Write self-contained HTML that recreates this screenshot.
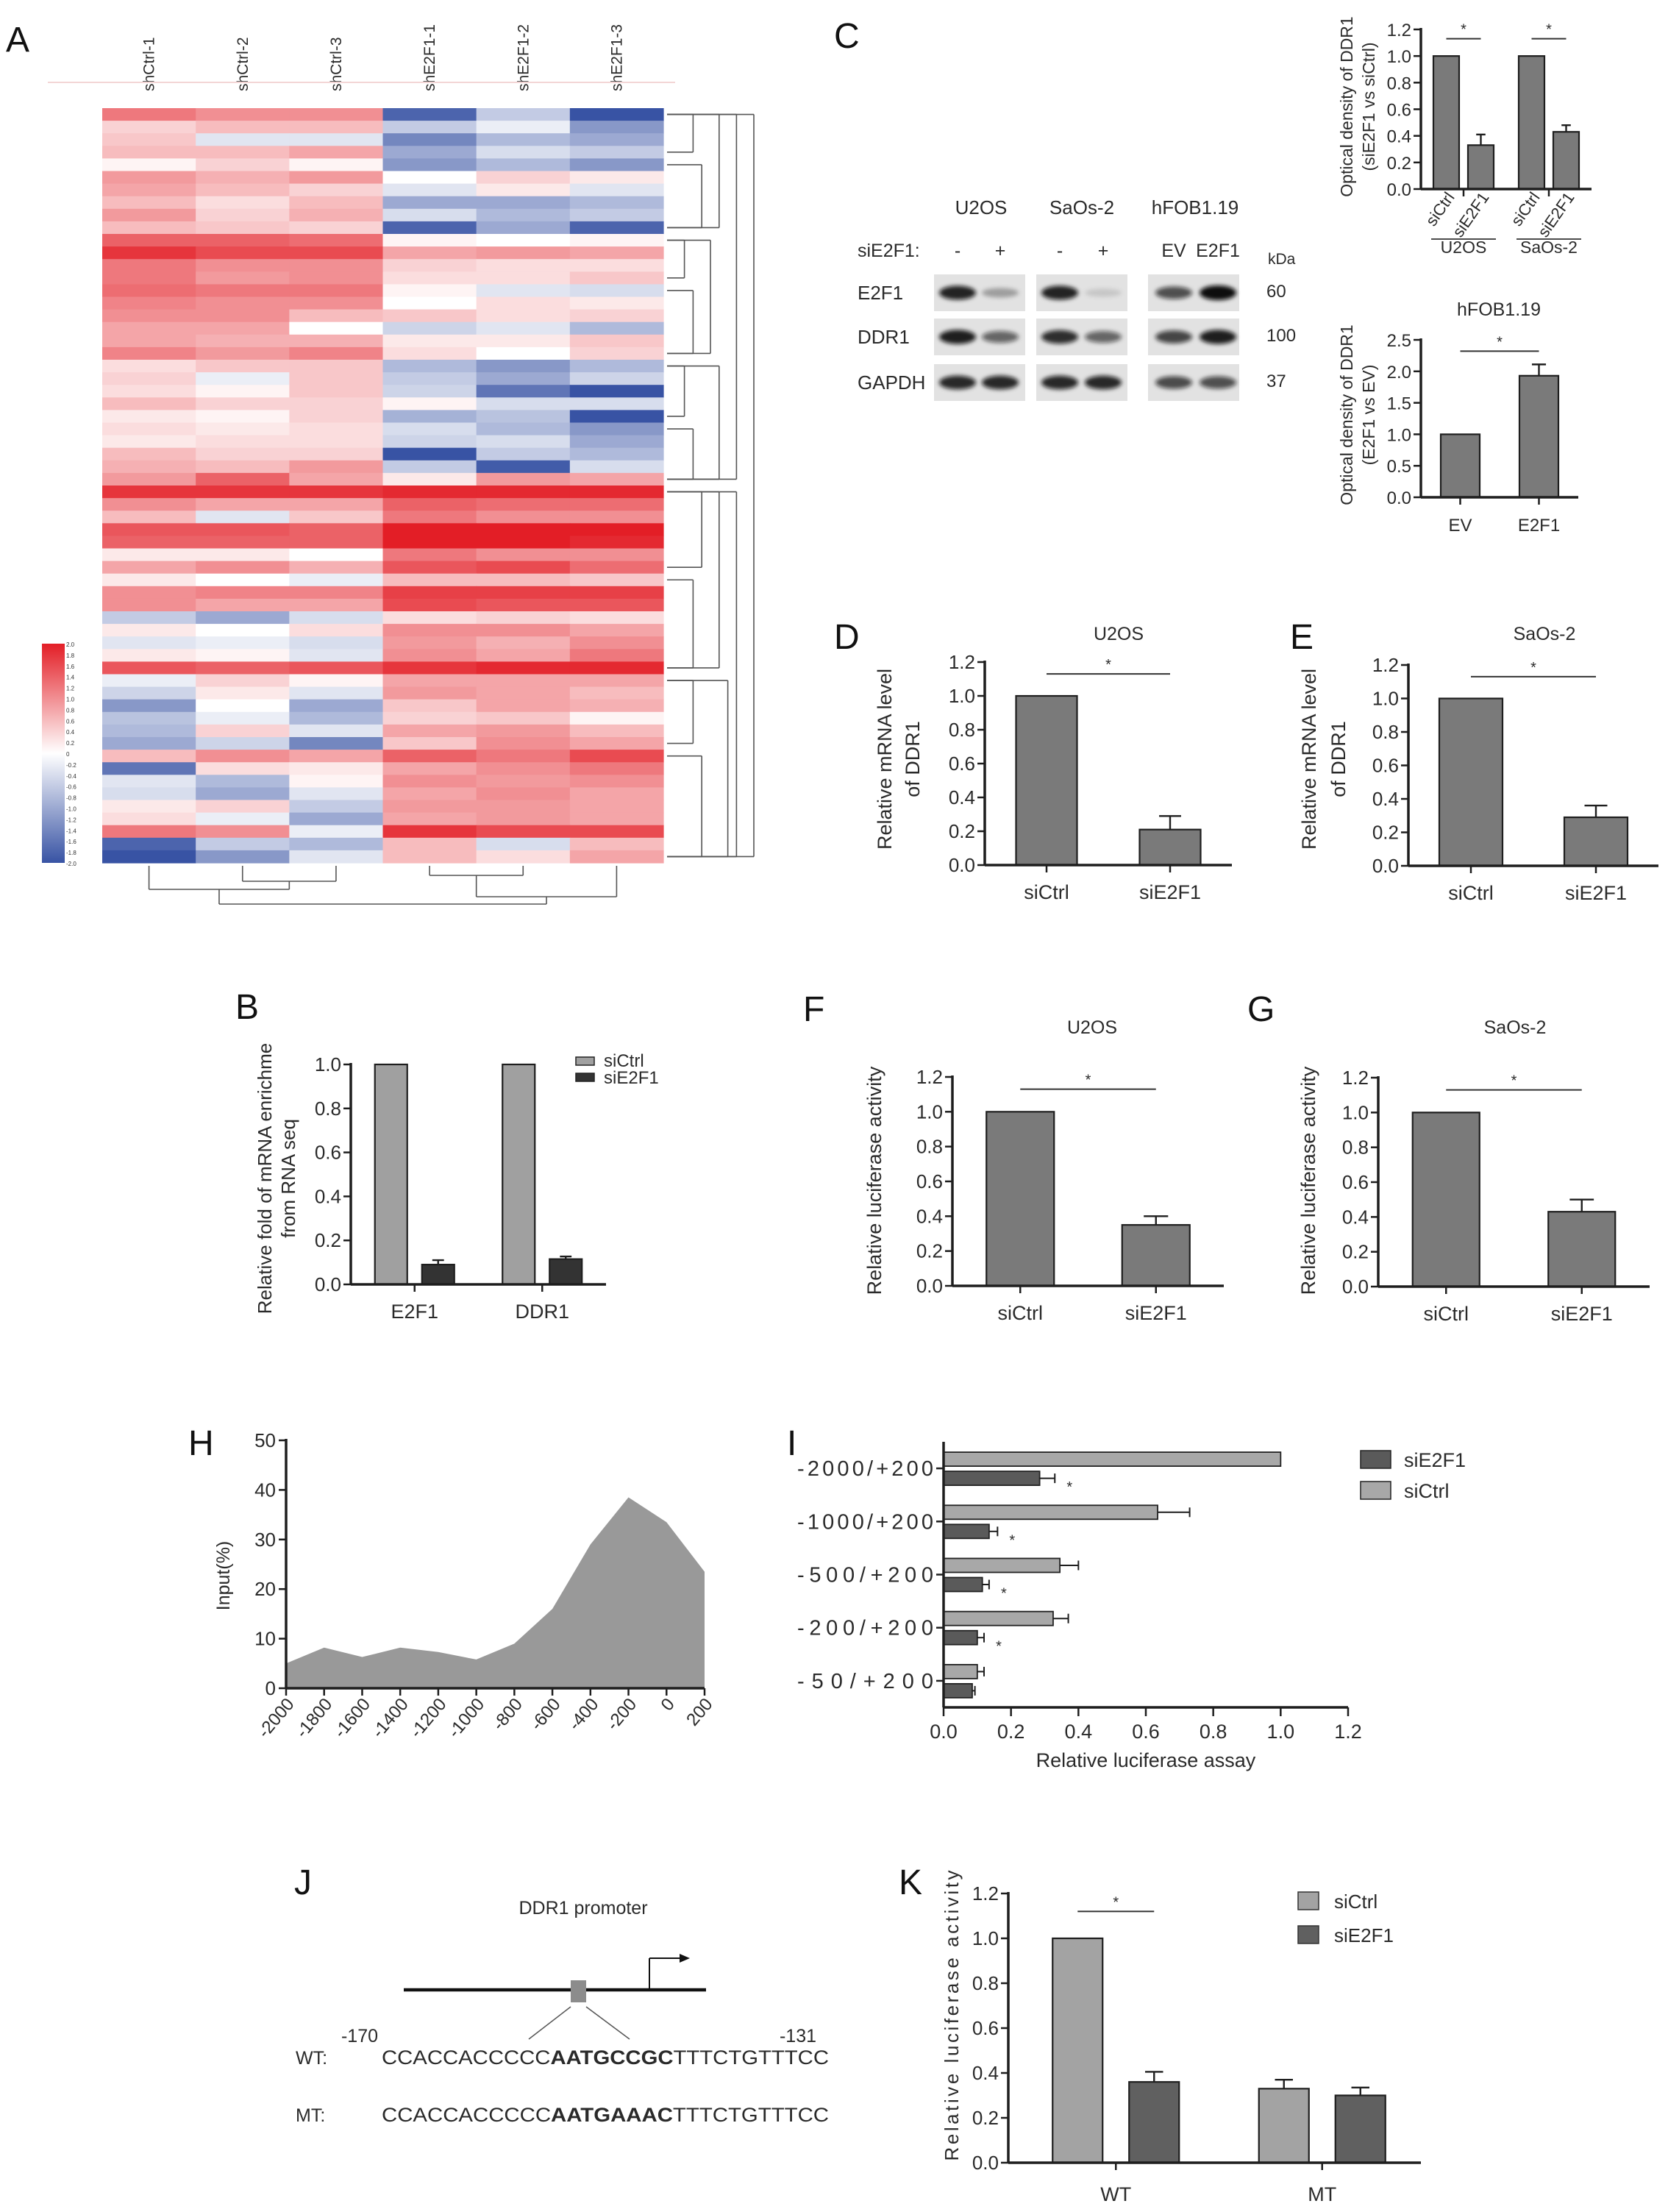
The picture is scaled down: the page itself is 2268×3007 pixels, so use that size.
<!DOCTYPE html>
<html><head><meta charset="utf-8">
<style>
html,body{margin:0;padding:0;background:#fff;}
svg{display:block;font-family:"Liberation Sans",Arial,sans-serif;}
</style></head>
<body>
<svg id="fig" xmlns="http://www.w3.org/2000/svg" width="2268" height="3007" viewBox="0 0 2268 3007">
<defs>
<filter id="blur" x="-20%" y="-50%" width="140%" height="200%"><feGaussianBlur stdDeviation="3"/></filter>
<linearGradient id="cbar" x1="0" y1="0" x2="0" y2="1">
<stop offset="0" stop-color="#e31e26"/><stop offset="0.5" stop-color="#ffffff"/><stop offset="1" stop-color="#3853a4"/>
</linearGradient>
</defs>
</svg>
<script>
// ---------- DATA ----------
const hmCols=['shCtrl-1','shCtrl-2','shCtrl-3','shE2F1-1','shE2F1-2','shE2F1-3'];
const hmRows=[
[1.2,1.0,1.0,-1.8,-0.6,-2.0],[0.4,0.6,0.6,-0.6,-0.2,-1.2],[0.5,-0.3,-0.3,-1.4,-0.8,-1.0],[0.6,0.6,0.8,-1.0,-0.4,-0.6],
[0.1,0.4,0.1,-1.2,-0.8,-1.2],[0.9,0.7,0.9,0.0,0.4,0.2],[0.8,0.6,0.4,-0.3,0.2,-0.3],[0.6,0.3,0.6,-1.0,-1.0,-0.8],
[0.9,0.4,0.7,-0.4,-0.8,-0.6],[0.6,0.5,0.4,-1.8,-1.0,-1.8],[1.4,1.4,1.3,0.1,0.0,0.1],[1.8,1.6,1.6,0.8,0.9,0.8],
[1.2,1.0,1.0,0.4,0.3,0.3],[1.2,0.9,1.0,0.3,0.3,0.5],[1.3,1.2,1.2,0.1,-0.3,-0.4],[1.1,1.0,1.0,0.0,0.3,0.2],
[1.0,1.0,0.6,0.5,0.3,0.4],[0.8,0.8,0.0,-0.5,-0.3,-0.8],[0.8,0.7,0.7,0.2,0.2,0.5],[1.1,0.9,1.1,0.3,0.0,0.4],
[0.3,0.5,0.5,-0.8,-1.2,-0.8],[0.4,-0.2,0.5,-0.6,-1.0,-0.5],[0.3,0.1,0.5,-0.5,-1.6,-2.0],[0.6,0.4,0.4,0.1,-0.4,-0.4],
[0.2,0.1,0.4,-0.9,-0.7,-2.0],[0.3,0.2,0.3,-0.4,-0.8,-1.2],[0.2,0.3,0.3,-0.5,-0.4,-1.0],[0.6,0.4,0.4,-2.0,-0.6,-0.8],
[0.7,0.6,0.9,-0.6,-1.9,-0.4],[0.9,1.4,0.8,0.2,0.9,0.8],[1.8,1.8,1.8,1.9,1.9,1.9],[1.0,0.8,0.8,1.4,1.3,1.3],
[0.6,-0.3,0.5,1.2,1.0,1.0],[1.5,1.5,1.4,2.0,2.0,2.0],[1.4,1.4,1.4,2.0,2.0,1.9],[0.2,0.2,0.0,1.2,1.0,1.0],
[0.8,1.0,0.7,1.5,1.6,1.3],[0.2,0.0,-0.2,0.6,0.6,0.5],[1.0,1.1,1.1,1.7,1.7,1.7],[1.0,0.8,0.8,1.6,1.5,1.5],
[-0.6,-1.0,-0.4,0.3,0.4,0.3],[0.2,0.0,0.3,1.0,1.0,0.8],[-0.3,-0.2,-0.4,0.9,0.7,1.0],[0.2,0.1,-0.3,1.0,0.8,1.2],
[1.5,1.4,1.5,1.8,1.9,1.9],[-0.2,0.4,0.1,0.8,0.8,0.8],[-0.5,0.2,-0.3,0.9,0.8,0.6],[-1.2,0.0,-1.0,0.5,0.8,0.7],
[-0.7,-0.2,-0.8,0.4,0.5,0.1],[-0.8,0.4,-0.3,0.8,0.9,0.6],[-1.0,-0.5,-1.4,0.5,1.0,0.8],[0.6,1.0,0.8,1.4,1.2,1.6],
[-1.6,0.3,0.2,0.8,1.0,1.2],[-0.3,-0.8,0.1,1.0,0.9,1.0],[-0.4,-1.0,-0.3,0.8,1.0,0.8],[0.2,0.4,-0.6,0.9,0.9,0.8],
[0.3,-0.2,-1.0,0.8,0.9,0.8],[1.2,1.0,-0.2,1.8,1.6,1.6],[-1.8,-0.6,-0.8,0.6,-0.4,0.6],[-2.0,-1.2,-0.3,0.6,0.3,0.8]
];
const cbTicks=['2.0','1.8','1.6','1.4','1.2','1.0','0.8','0.6','0.4','0.2','0','-0.2','-0.4','-0.6','-0.8','-1.0','-1.2','-1.4','-1.6','-1.8','-2.0'];
const rowDendro=[[0,29,4],[30,59,4],[0,59,5],[0,9,3],[10,19,2.5],[20,29,3],[30,44,3],[45,59,3.5],[0,3,1.5],[4,9,2],[10,13,1],[14,19,1.5],[20,24,1],[25,29,1.5],[30,36,2],[37,44,1.5],[45,50,1.5],[51,59,2]];
const colDendro=[{a:1,b:2,ha:0,hb:0,h:21},{a:0,b:1.5,ha:0,hb:21,h:32},{a:3,b:4,ha:0,hb:0,h:13},{a:3.5,b:5,ha:13,hb:0,h:42},{a:0.75,b:4.25,ha:32,hb:42,h:52}];

const bCats=['E2F1','DDR1'];
const bCtrl=[1.0,1.0];
const bSi=[0.09,0.115];
const bSiErr=[0.02,0.012];
const bTicks=[0,0.2,0.4,0.6,0.8,1.0];

const cTopCats=['U2OS','SaOs-2'];
const cTopCtrl=[1.0,1.0];
const cTopSi=[0.33,0.43];
const cTopSiErr=[0.08,0.05];
const cTopTicks=[0,0.2,0.4,0.6,0.8,1.0,1.2];

const cBotCats=['EV','E2F1'];
const cBotVals=[1.0,1.93];
const cBotErr=[0,0.18];
const cBotTicks=[0,0.5,1.0,1.5,2.0,2.5];

const relCats=['siCtrl','siE2F1'];
const dVals=[1.0,0.21];
const dErr=[0,0.08];
const eVals=[1.0,0.29];
const eErr=[0,0.07];
const fVals=[1.0,0.35];
const fErr=[0,0.05];
const gVals=[1.0,0.43];
const gErr=[0,0.07];
const relTicks=[0,0.2,0.4,0.6,0.8,1.0,1.2];

const hX=[-2000,-1800,-1600,-1400,-1200,-1000,-800,-600,-400,-200,0,200];
const hY=[5,8.2,6.3,8.2,7.3,5.8,9,16,29,38.5,33.5,23.5];
const hTicks=[0,10,20,30,40,50];

const iCats=['-2000/+200','-1000/+200','-500/+200','-200/+200','-50/+200'];
const iCtrl=[1.0,0.635,0.345,0.325,0.10];
const iCtrlErr=[0,0.095,0.055,0.045,0.02];
const iSi=[0.285,0.135,0.115,0.10,0.085];
const iSiErr=[0.045,0.025,0.02,0.02,0.008];
const iSig=[true,true,true,true,false];
const iTicks=[0,0.2,0.4,0.6,0.8,1.0,1.2];

const kCats=['WT','MT'];
const kCtrl=[1.0,0.33];
const kCtrlErr=[0,0.04];
const kSi=[0.36,0.30];
const kSiErr=[0.045,0.035];
const kTicks=[0,0.2,0.4,0.6,0.8,1.0,1.2];

const wbLanes=['-','+','-','+','EV','E2F1'];
const wbE2F1=[0.9,0.3,0.9,0.12,0.7,1.0];
const wbDDR1=[0.92,0.6,0.85,0.6,0.75,0.92];
const wbGAPDH=[0.88,0.88,0.88,0.88,0.72,0.7];

// ---------- HELPERS ----------
const NS='http://www.w3.org/2000/svg';
const svg=document.getElementById('fig');
function mk(tag,attrs,parent){const e=document.createElementNS(NS,tag);for(const k in attrs)e.setAttribute(k,attrs[k]);(parent||svg).appendChild(e);return e;}
function txt(s,x,y,size,name,opts,parent){
  const t=mk('text',Object.assign({x:x,y:y,'font-size':size,fill:'#2a2a2a'},opts||{}),parent);
  t.textContent=s;
  
  
  return t;
}
function line(x1,y1,x2,y2,w,parent,col){return mk('line',{x1:x1,y1:y1,x2:x2,y2:y2,stroke:col||'#1e1e1e','stroke-width':w||3},parent);}
function fmt(v){return v.toFixed(1);}

// Panel letters
[['A',8,70],['C',1134,65],['D',1134,882],['E',1754,882],['B',320,1385],['F',1092,1388],['G',1696,1388],['H',256,1978],['I',1070,1978],['J',400,2575],['K',1222,2575]].forEach(p=>{
  const t=txt(p[0],p[1],p[2],48,'panel-label-'+p[0].toLowerCase(),{fill:'#111'});
});

// ---------- HEATMAP ----------
(function(){
  const g=mk('g',{});
  
  
  const x0=139,x1=902,y0=147,y1=1173;
  const cw=(x1-x0)/hmCols.length, rh=(y1-y0)/hmRows.length;
  function col(v){
    const t=Math.min(1,Math.abs(v)/2);
    const c=v>=0?[227,30,38]:[56,83,164];
    const r=Math.round(255+(c[0]-255)*t),gg=Math.round(255+(c[1]-255)*t),b=Math.round(255+(c[2]-255)*t);
    return 'rgb('+r+','+gg+','+b+')';
  }
  hmRows.forEach((row,ri)=>{
    row.forEach((v,ci)=>{
      const r=mk('rect',{x:x0+ci*cw,y:y0+ri*rh,width:cw+0.6,height:rh+0.6,fill:col(v)},g);
      
      
    });
  });
  hmCols.forEach((c,ci)=>{
    const cx=x0+(ci+0.5)*cw;
    const t=txt(c,0,0,21,'column-label',{transform:'translate('+(cx+7)+',124) rotate(-90)','text-anchor':'start'},g);
  });
  line(65,112,918,112,2,g,'#f3d6d6');
  const dg=mk('g',{fill:'none'});
  
  
  const lx=l=>907+l*23.6, ry=i=>y0+(i+0.5)*rh;
  rowDendro.forEach(d=>{
    const xa=lx(d[2]);
    line(xa,ry(d[0]),xa,ry(d[1]),1.6,dg,'#555');
    line(907,ry(d[0]),xa,ry(d[0]),1.6,dg,'#555');
    line(907,ry(d[1]),xa,ry(d[1]),1.6,dg,'#555');
  });
  const cg=mk('g',{});
  
  
  const cxp=i=>x0+(i+0.5)*cw, cy=h=>1177+h;
  colDendro.forEach(d=>{
    line(cxp(d.a),cy(d.ha),cxp(d.a),cy(d.h),1.6,cg,'#555');
    line(cxp(d.b),cy(d.hb),cxp(d.b),cy(d.h),1.6,cg,'#555');
    line(cxp(d.a),cy(d.h),cxp(d.b),cy(d.h),1.6,cg,'#555');
  });
  const cb=mk('rect',{x:57,y:875,width:31,height:298,fill:'url(#cbar)'});
  
  
  cbTicks.forEach((t,i)=>{
    txt(t,90,875+4+i*(298/20),8,'color-scale-tick',{fill:'#333'});
  });
})();

// ---------- GENERIC VERTICAL BAR CHART ----------
function vbars(c){
  const g=mk('g',{});
  
  
  const n=c.cats.length, m=c.series.length;
  const band=(c.x1-c.x0)/n;
  const y=v=>c.yb-(v/c.max)*(c.yb-c.yt);
  const gx=i=>c.x0+band*(i+0.5)+(c.shift||0);
  const bx=(i,si)=>gx(i)+(si-(m-1)/2)*(c.sp||0);
  c.series.forEach((s,si)=>{
    s.vals.forEach((v,i)=>{
      const cx=bx(i,si);
      const r=mk('rect',{x:cx-c.bw/2,y:y(v),width:c.bw,height:c.yb-y(v),fill:s.fill,stroke:'#1e1e1e','stroke-width':2.2},g);
      
      
      const e=s.errs?s.errs[i]:0;
      if(e>0){
        line(cx,y(v),cx,y(v+e),2.4,g);
        line(cx-c.bw*0.18,y(v+e),cx+c.bw*0.18,y(v+e),2.4,g);
      }
    });
  });
  line(c.x0,c.yt-2,c.x0,c.yb,c.aw||3.5,g);
  line(c.x0,c.yb,c.x1,c.yb,c.aw||3.5,g);
  c.ticks.forEach(t=>{
    line(c.x0-10,y(t),c.x0,y(t),2.5,g);
    txt(fmt(t),c.x0-13,y(t)+9,c.tfs||26,'y-tick-label',{'text-anchor':'end'},g);
  });
  c.cats.forEach((cat,i)=>{
    line(gx(i),c.yb,gx(i),c.yb+10,2.5,g);
    if(!c.noCatLabels) txt(cat,gx(i),c.yb+46,c.cfs||27,'x-category-label',{'text-anchor':'middle'},g);
  });
  if(c.ytitle){
    c.ytitle.forEach((l,k)=>{
      txt(l,0,0,c.yfs||27,'y-axis-title',{'text-anchor':'middle',transform:'translate('+c.ytx[k]+','+c.ycy+') rotate(-90)'},g);
    });
  }
  if(c.title) txt(c.title,c.titleX,c.titleY,25,'chart-title',{'text-anchor':'middle'},g);
  (c.sig||[]).forEach(s=>{
    const xa=bx(s.a[0],s.a[1]), xb=bx(s.b[0],s.b[1]);
    line(xa,y(s.v),xb,y(s.v),2,g,'#333');
    txt('*',(xa+xb)/2,y(s.v)-6,20,'significance-star',{'text-anchor':'middle'},g);
  });
  return {g:g,y:y,bx:bx,gx:gx};
}

// ---------- B ----------
(function(){
  const r=vbars({name:'chart-b',cats:bCats,x0:477,x1:824,yb:1746,yt:1447,max:1.0,ticks:bTicks,bw:44,sp:64,
    series:[{key:'sictrl',vals:bCtrl,fill:'#a0a0a0'},{key:'sie2f1',vals:bSi,errs:bSiErr,fill:'#333333'}],
    ytitle:['Relative fold of mRNA enrichme','from RNA seq'],ytx:[369,401],ycy:1602,yfs:26});
  const lg=mk('g',{});
  
  
  mk('rect',{x:783,y:1437,width:25,height:11,fill:'#a0a0a0',stroke:'#222','stroke-width':1.5},lg);
  mk('rect',{x:783,y:1459,width:25,height:11,fill:'#333',stroke:'#222','stroke-width':1.5},lg);
  txt('siCtrl',821,1450,24,'legend-entry-sictrl',{},lg);
  txt('siE2F1',821,1473,24,'legend-entry-sie2f1',{},lg);
})();

// ---------- C top ----------
(function(){
  const r=vbars({name:'chart-c-top',cats:cTopCats,x0:1932,x1:2164,yb:257,yt:40,max:1.2,ticks:cTopTicks,bw:35,sp:47,tfs:24,noCatLabels:true,
    series:[{key:'sictrl',vals:cTopCtrl,fill:'#7a7a7a'},{key:'sie2f1',vals:cTopSi,errs:cTopSiErr,fill:'#7a7a7a'}],
    ytitle:['Optical density of DDR1','(siE2F1 vs siCtrl)'],ytx:[1839,1869],ycy:145,yfs:23,
    sig:[{a:[0,0],b:[0,1],v:1.13},{a:[1,0],b:[1,1],v:1.13}]});
  cTopCats.forEach((c,i)=>{
    ['siCtrl','siE2F1'].forEach((s,si)=>{
      const x=r.bx(i,si);
      txt(s,0,0,22,'x-bar-label',{'text-anchor':'end',transform:'translate('+(x+12)+',268) rotate(-55)'},r.g);
    });
    line(r.gx(i)-44,325,r.gx(i)+44,325,1.8,r.g,'#333');
    txt(c,r.gx(i),344,23,'group-label',{'text-anchor':'middle'},r.g);
  });
})();

// ---------- C bottom ----------
(function(){
  vbars({name:'chart-c-bottom',cats:cBotCats,x0:1932,x1:2146,yb:676,yt:462,max:2.5,ticks:cBotTicks,bw:53,sp:0,tfs:24,cfs:24,
    series:[{key:'value',vals:cBotVals,errs:cBotErr,fill:'#7a7a7a'}],
    ytitle:['Optical density of DDR1','(E2F1 vs EV)'],ytx:[1839,1869],ycy:564,yfs:23,
    title:'hFOB1.19',titleX:2038,titleY:429,sig:[{a:[0,0],b:[1,0],v:2.32}]});
})();

// ---------- Western blot ----------
(function(){
  const g=mk('g',{});
  
  
  txt('U2OS',1334,291,26,'blot-cell-label',{'text-anchor':'middle'},g);
  txt('SaOs-2',1471,291,26,'blot-cell-label',{'text-anchor':'middle'},g);
  txt('hFOB1.19',1625,291,26,'blot-cell-label',{'text-anchor':'middle'},g);
  txt('siE2F1:',1166,349,25,'blot-treatment-label',{},g);
  txt('kDa',1724,359,21,'blot-kda-label',{},g);
  const boxes=[[1270,1394],[1409,1533],[1561,1685]];
  const lanesX=[1302,1360,1441,1500,1596,1656];
  wbLanes.forEach((l,i)=>txt(l,lanesX[i],349,25,'blot-lane-label',{'text-anchor':'middle'},g));
  const rows=[['E2F1',373,423,wbE2F1,'60'],['DDR1',433,483,wbDDR1,'100'],['GAPDH',495,545,wbGAPDH,'37']];
  rows.forEach(r=>{
    txt(r[0],1166,(r[1]+r[2])/2+9,26,'blot-row-label',{},g);
    txt(r[4],1722,(r[1]+r[2])/2+6,24,'blot-kda-value',{},g);
    boxes.forEach(b=>{
      const bx=mk('rect',{x:b[0],y:r[1],width:b[1]-b[0],height:r[2]-r[1],fill:'#e2e2e2'},g);
      
      
    });
    r[3].forEach((v,i)=>{
      const band=mk('ellipse',{cx:lanesX[i],cy:(r[1]+r[2])/2,rx:25,ry:5+5*v,fill:'#111','fill-opacity':v,filter:'url(#blur)'},g);
      
      
    });
  });
})();

// ---------- D / E / F / G ----------
vbars({name:'chart-d',cats:relCats,x0:1339,x1:1675,yb:1176,yt:900,max:1.2,ticks:relTicks,bw:83,
  series:[{key:'value',vals:dVals,errs:dErr,fill:'#7a7a7a'}],
  ytitle:['Relative mRNA level','of DDR1'],ytx:[1212,1250],ycy:1032,title:'U2OS',titleX:1521,titleY:870,
  sig:[{a:[0,0],b:[1,0],v:1.13}]});
vbars({name:'chart-e',cats:relCats,x0:1915,x1:2255,yb:1177,yt:904,max:1.2,ticks:relTicks,bw:86,
  series:[{key:'value',vals:eVals,errs:eErr,fill:'#7a7a7a'}],
  ytitle:['Relative mRNA level','of DDR1'],ytx:[1789,1829],ycy:1032,title:'SaOs-2',titleX:2100,titleY:870,
  sig:[{a:[0,0],b:[1,0],v:1.13}]});
vbars({name:'chart-f',cats:relCats,x0:1295,x1:1664,yb:1748,yt:1464,max:1.2,ticks:relTicks,bw:92,
  series:[{key:'value',vals:fVals,errs:fErr,fill:'#7a7a7a'}],
  ytitle:['Relative luciferase activity'],ytx:[1198],ycy:1605,title:'U2OS',titleX:1485,titleY:1405,
  sig:[{a:[0,0],b:[1,0],v:1.13}]});
vbars({name:'chart-g',cats:relCats,x0:1874,x1:2243,yb:1749,yt:1465,max:1.2,ticks:relTicks,bw:91,
  series:[{key:'value',vals:gVals,errs:gErr,fill:'#7a7a7a'}],
  ytitle:['Relative luciferase activity'],ytx:[1788],ycy:1605,title:'SaOs-2',titleX:2060,titleY:1405,
  sig:[{a:[0,0],b:[1,0],v:1.13}]});

// ---------- H area ----------
(function(){
  const g=mk('g',{});
  
  
  const x0=389,x1=958,yb=2295,yt=1958;
  const xs=v=>x0+(v-hX[0])/(hX[hX.length-1]-hX[0])*(x1-x0);
  const ys=v=>yb-v/50*(yb-yt);
  let d='M'+xs(hX[0])+','+yb;
  hX.forEach((x,i)=>{d+=' L'+xs(x)+','+ys(hY[i]);});
  d+=' L'+xs(hX[hX.length-1])+','+yb+' Z';
  const a=mk('path',{d:d,fill:'#999'},g);
  
  
  line(x0,yt-2,x0,yb,3.5,g);
  line(x0,yb,x1,yb,3.5,g);
  hTicks.forEach(t=>{line(x0-10,ys(t),x0,ys(t),2.5,g);txt(String(t),x0-14,ys(t)+9,26,'y-tick-label',{'text-anchor':'end'},g);});
  hX.forEach(x=>{
    line(xs(x),yb,xs(x),yb+10,2.5,g);
    txt(String(x),0,0,24,'x-tick-label',{'text-anchor':'end',transform:'translate('+(xs(x)+12)+','+(yb+22)+') rotate(-50)'},g);
  });
  txt('Input(%)',0,0,25,'y-axis-title',{'text-anchor':'middle',transform:'translate(312,2142) rotate(-90)'},g);
})();

// ---------- I horizontal bars ----------
(function(){
  const g=mk('g',{});
  
  
  const x0=1283,x1=1833,yt=1960,yb=2321;
  const xs=v=>x0+v/1.2*(x1-x0);
  const band=(yb-yt)/iCats.length;
  const yc=i=>yt+band*(i+0.5);
  iCats.forEach((c,i)=>{
    const c0=yc(i);
    const r1=mk('rect',{x:x0,y:c0-22,width:xs(iCtrl[i])-x0,height:19,fill:'#a8a8a8',stroke:'#222','stroke-width':1.8},g);
    
    
    const r2=mk('rect',{x:x0,y:c0+4,width:xs(iSi[i])-x0,height:19,fill:'#5a5a5a',stroke:'#222','stroke-width':1.8},g);
    
    
    if(iCtrlErr[i]>0){line(xs(iCtrl[i]),c0-12.5,xs(iCtrl[i]+iCtrlErr[i]),c0-12.5,2,g);line(xs(iCtrl[i]+iCtrlErr[i]),c0-19,xs(iCtrl[i]+iCtrlErr[i]),c0-6,2,g);}
    if(iSiErr[i]>0){line(xs(iSi[i]),c0+13.5,xs(iSi[i]+iSiErr[i]),c0+13.5,2,g);line(xs(iSi[i]+iSiErr[i]),c0+7,xs(iSi[i]+iSiErr[i]),c0+20,2,g);}
    if(iSig[i]) txt('*',xs(iSi[i]+iSiErr[i])+20,c0+32,20,'significance-star',{'text-anchor':'middle'},g);
    line(x0-10,c0,x0,c0,2.5,g);
    txt(c,x0-14,c0+10,29,'y-category-label',{'text-anchor':'end',textLength:185,lengthAdjust:'spacing'},g);
  });
  line(x0,yt,x0,yb,3.5,g);
  line(x0,yb,x1,yb,3.5,g);
  iTicks.forEach(t=>{line(xs(t),yb,xs(t),yb+12,2.5,g);txt(fmt(t),xs(t),yb+42,27,'x-tick-label',{'text-anchor':'middle'},g);});
  txt('Relative luciferase assay',xs(0.6),2402,27,'x-axis-title',{'text-anchor':'middle'},g);
  const lg=mk('g',{});
  
  
  mk('rect',{x:1850,y:1972,width:41,height:24,fill:'#5a5a5a',stroke:'#222','stroke-width':1.5},lg);
  mk('rect',{x:1850,y:2014,width:41,height:24,fill:'#a8a8a8',stroke:'#222','stroke-width':1.5},lg);
  txt('siE2F1',1909,1994,27,'legend-entry-sie2f1',{},lg);
  txt('siCtrl',1909,2036,27,'legend-entry-sictrl',{},lg);
})();

// ---------- J diagram ----------
(function(){
  const g=mk('g',{});
  
  
  txt('DDR1 promoter',793,2602,25,'promoter-title',{'text-anchor':'middle'},g);
  line(549,2705,960,2705,4.5,g,'#111');
  const box=mk('rect',{x:776,y:2692,width:21,height:30,fill:'#8c8c8c'},g);
  
  
  line(883,2705,883,2662,2,g,'#111');
  line(883,2662,928,2662,2,g,'#111');
  mk('path',{d:'M924,2656 L938,2662 L924,2668 Z',fill:'#111'},g);
  line(776,2728,719,2772,1.5,g,'#555');
  line(797,2728,856,2772,1.5,g,'#555');
  txt('-170',489,2776,25,'position-label',{'text-anchor':'middle'},g);
  txt('-131',1085,2776,25,'position-label',{'text-anchor':'middle'},g);
  txt('WT:',402,2806,25,'wt-label',{},g);
  txt('MT:',402,2884,25,'mt-label',{},g);
  const s1=txt('',519,2806,27,'wt-sequence',{textLength:608,lengthAdjust:'spacingAndGlyphs'},g);
  s1.innerHTML='CCACCACCCCC<tspan font-weight="bold">AATGCCGC</tspan>TTTCTGTTTCC';
  const s2=txt('',519,2884,27,'mt-sequence',{textLength:608,lengthAdjust:'spacingAndGlyphs'},g);
  s2.innerHTML='CCACCACCCCC<tspan font-weight="bold">AATGAAAC</tspan>TTTCTGTTTCC';
})();

// ---------- K ----------
(function(){
  const r=vbars({name:'chart-k',cats:kCats,x0:1371,x1:1932,yb:2940,yt:2574,max:1.2,ticks:kTicks,bw:68,sp:104,shift:6,
    series:[{key:'sictrl',vals:kCtrl,errs:kCtrlErr,fill:'#a3a3a3'},{key:'sie2f1',vals:kSi,errs:kSiErr,fill:'#606060'}],
    sig:[{a:[0,0],b:[0,1],v:1.12}],noCatLabels:true});
  kCats.forEach((c,i)=>txt(c,r.gx(i),2992,27,'x-category-label',{'text-anchor':'middle'},r.g));
  txt('Relative luciferase activity',0,0,26,'y-axis-title',{'text-anchor':'middle',transform:'translate(1303,2740) rotate(-90)',textLength:395,lengthAdjust:'spacing'},r.g);
  const lg=mk('g',{});
  
  
  mk('rect',{x:1765,y:2572,width:28,height:24,fill:'#a3a3a3',stroke:'#333','stroke-width':1.5},lg);
  mk('rect',{x:1765,y:2618,width:28,height:24,fill:'#606060',stroke:'#333','stroke-width':1.5},lg);
  txt('siCtrl',1814,2594,26,'legend-entry-sictrl',{},lg);
  txt('siE2F1',1814,2640,26,'legend-entry-sie2f1',{},lg);
})();
</script>
</body></html>
